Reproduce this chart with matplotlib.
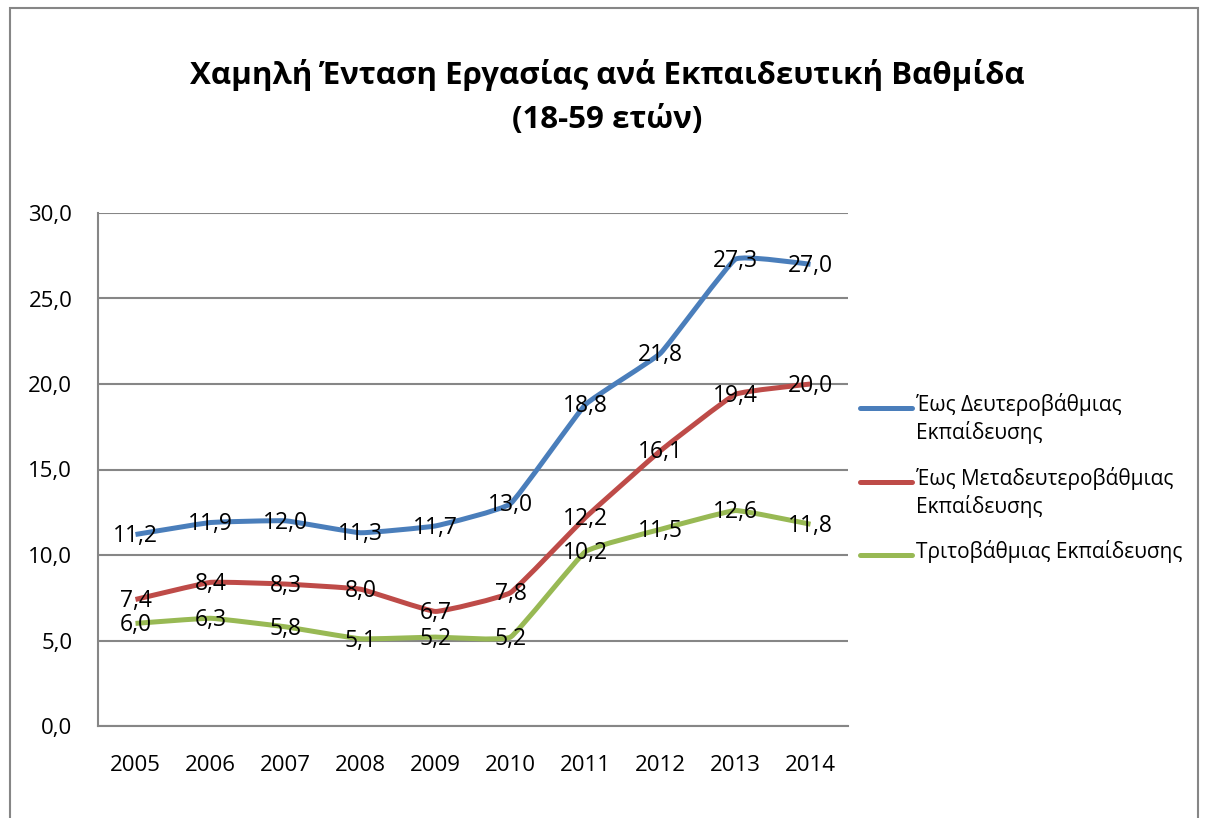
import matplotlib
matplotlib.use("Agg")
import matplotlib.pyplot as plt
from matplotlib.path import Path
from matplotlib.patches import PathPatch, Rectangle
from matplotlib.lines import Line2D
from matplotlib.ticker import FuncFormatter

years = ["2005", "2006", "2007", "2008", "2009", "2010", "2011", "2012", "2013", "2014"]
secondary = [11.2, 11.9, 12.0, 11.3, 11.7, 13.0, 18.8, 21.8, 27.3, 27.0]
post_secondary = [7.4, 8.4, 8.3, 8.0, 6.7, 7.8, 12.2, 16.1, 19.4, 20.0]
tertiary = [6.0, 6.3, 5.8, 5.1, 5.2, 5.2, 10.2, 11.5, 12.6, 11.8]

series_names = ["Έως Δευτεροβάθμιας\nΕκπαίδευσης",
                "Έως Μεταδευτεροβάθμιας\nΕκπαίδευσης",
                "Τριτοβάθμιας Εκπαίδευσης"]
series_vals = [secondary, post_secondary, tertiary]
colors = ["#4A7EBB", "#BE4B48", "#98B954"]

title = "Χαμηλή Ένταση Εργασίας ανά Εκπαιδευτική Βαθμίδα\n(18-59 ετών)"
yticks = [0, 5, 10, 15, 20, 25, 30]

plt.rcParams["font.family"] = ["Open Sans", "DejaVu Sans"]


def smooth_path(xs, ys, k=0.05):
    # lightly smoothed line: cubic Bezier segments with short tangents
    pts = list(zip(xs, ys))
    n = len(pts)
    verts = [pts[0]]
    codes = [Path.MOVETO]
    for i in range(n - 1):
        p0 = pts[i - 1] if i > 0 else pts[i]
        p1 = pts[i]
        p2 = pts[i + 1]
        p3 = pts[i + 2] if i + 2 < n else pts[i + 1]
        c1 = (p1[0] + (p2[0] - p0[0]) * k, p1[1] + (p2[1] - p0[1]) * k)
        c2 = (p2[0] - (p3[0] - p1[0]) * k, p2[1] - (p3[1] - p1[1]) * k)
        verts += [c1, c2, p2]
        codes += [Path.CURVE4] * 3
    return Path(verts, codes)


fig = plt.figure(figsize=(12.06, 8.18), dpi=100)
ax = fig.add_axes([98 / 1206, 1 - 726 / 818, 750 / 1206, 513 / 818])

x = list(range(len(years)))
for vals, c in zip(series_vals, colors):
    ax.add_patch(PathPatch(smooth_path(x, vals), fill=False, edgecolor=c,
                           lw=3.6, capstyle="butt", joinstyle="round", zorder=3))
    for xi, v in zip(x, vals):
        ax.text(xi, v - 0.1, f"{v:.1f}".replace(".", ","), ha="center", va="center",
                fontsize=16.5, color="black", zorder=4)

ax.set_xlim(-0.5, len(years) - 0.5)
ax.set_ylim(0, 30)
ax.set_xticks(x)
ax.set_xticklabels(years)
ax.set_yticks(yticks)
ax.yaxis.set_major_formatter(FuncFormatter(lambda v, p: f"{v:.1f}".replace(".", ",")))
ax.tick_params(axis="both", length=0, labelsize=16, colors="black")
ax.tick_params(axis="y", pad=18.5)
ax.tick_params(axis="x", pad=21)
ax.grid(axis="y", color="#868686", lw=1.5)
ax.set_axisbelow(True)
for s in ["top", "right"]:
    ax.spines[s].set_visible(False)
for s in ["left", "bottom"]:
    ax.spines[s].set_color("#868686")
    ax.spines[s].set_linewidth(1.5)

fig.text(607 / 1206, 1 - 97 / 818, title, ha="center", va="center",
         fontsize=22.5, fontweight="bold", linespacing=1.65)

# legend, handle aligned with the first text line as in the original
leg_y = [408, 482, 555]
for name, c, yy in zip(series_names, colors, leg_y):
    fy = 1 - yy / 818
    fig.add_artist(Line2D([860 / 1206, 912 / 1206], [fy, fy], color=c, lw=3.6,
                          solid_capstyle="round"))
    fig.text(916 / 1206, 1 - (yy - 15) / 818, name, ha="left", va="top",
             fontsize=15, linespacing=1.3)

fig.add_artist(Rectangle((10 / 1206, -0.05), 1188 / 1206, 1.05 - 8 / 818,
                         transform=fig.transFigure, fill=False,
                         edgecolor="#868686", lw=1.5))

fig.savefig("out.png", dpi=100)
